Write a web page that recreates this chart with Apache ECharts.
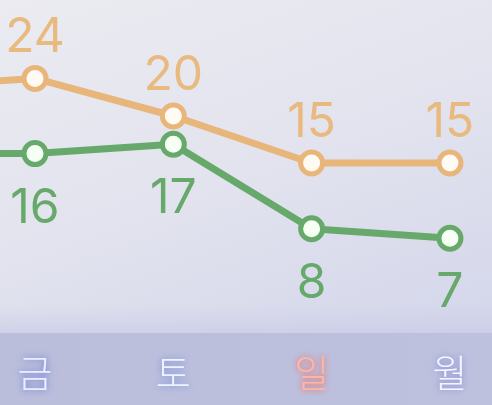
<!DOCTYPE html>
<html>
<head>
<meta charset="utf-8">
<script src="https://cdn.jsdelivr.net/npm/echarts@6/dist/echarts.min.js"></script>
<style>
html,body{margin:0;padding:0;}
#c{width:492px;height:405px;background:linear-gradient(160deg,#ebebf1 0%,#e2e3ee 45%,#cfd2ea 100%);}
</style>
</head>
<body>
<div id="c"></div>
<script>
// categories (the first one lies just off the left edge, as in the reference)
var days = ['목', '금', '토', '일', '월'];
var highTemps = [23, 24, 20, 15, 15];
var lowTemps = [16, 16, 17, 8, 7];
var dayColors = ['#eaeeff', '#eaeeff', '#eef3ff', '#ffb6a6', '#f4f5ff'];
var dayGlows = ['#5566d8', '#5566d8', '#6a86dc', '#ee5846', '#7680da'];

var orange = '#e8b67a';
var green = '#67a96b';

function pairs(arr) { return arr.map(function (v, i) { return [i, v]; }); }

var rich = {};
for (var i = 0; i < days.length; i++) {
  rich['d' + i] = {color: dayColors[i], fontSize: 38, fontFamily: 'Noto Sans CJK KR', fontWeight: 300,
    textShadowColor: dayGlows[i], textShadowBlur: 7};
}

var chart = echarts.init(document.getElementById('c'), null, {renderer: 'canvas'});
chart.setOption({
  animation: false,
  graphic: [
    {type: 'rect', shape: {x: 0, y: 305, width: 492, height: 28}, silent: true, z: -10,
     style: {fill: new echarts.graphic.LinearGradient(0, 0, 0, 1, [
       {offset: 0, color: 'rgba(205,208,232,0)'}, {offset: 1, color: 'rgba(200,203,230,0.7)'}])}},
    {type: 'rect', shape: {x: 0, y: 333, width: 492, height: 72}, silent: true, z: -10,
     style: {fill: new echarts.graphic.LinearGradient(0, 0, 1, 0, [
       {offset: 0, color: '#babedb'}, {offset: 1, color: '#bec1de'}])}}
  ],
  grid: {left: 0, right: 0, top: 22, bottom: 101, containLabel: false},
  xAxis: {
    type: 'value', min: 0.747, max: 4.304,
    axisLine: {show: false}, axisTick: {show: false}, splitLine: {show: false},
    axisLabel: {
      margin: 50, fontSize: 38, fontFamily: 'Noto Sans CJK KR',
      customValues: [1, 2, 3, 4],
      showMinLabel: true, showMaxLabel: true,
      formatter: function (v) { var i = Math.round(v); return '{d' + i + '|' + days[i] + '}'; },
      rich: rich
    }
  },
  yAxis: {type: 'value', min: 0, max: 30, show: false, splitLine: {show: false}},
  series: [
    {
      type: 'line', data: pairs(highTemps), symbol: 'circle', symbolSize: 22,
      lineStyle: {color: orange, width: 7},
      itemStyle: {color: '#fffbf3', borderColor: orange, borderWidth: 5},
      label: {show: true, position: 'top', distance: 3, color: '#e9ba80',
        fontSize: 48, fontFamily: 'Inter', fontWeight: 400,
        formatter: function (p) { return p.value[1]; }},
      z: 2
    },
    {
      type: 'line', data: pairs(lowTemps), symbol: 'circle', symbolSize: 22,
      lineStyle: {color: green, width: 7},
      itemStyle: {color: '#f6fff4', borderColor: green, borderWidth: 5},
      label: {show: true, position: 'bottom', distance: 17, color: green,
        fontSize: 48, fontFamily: 'Inter', fontWeight: 400,
        formatter: function (p) { return p.value[1]; }},
      z: 3
    }
  ]
});
</script>
</body>
</html>
